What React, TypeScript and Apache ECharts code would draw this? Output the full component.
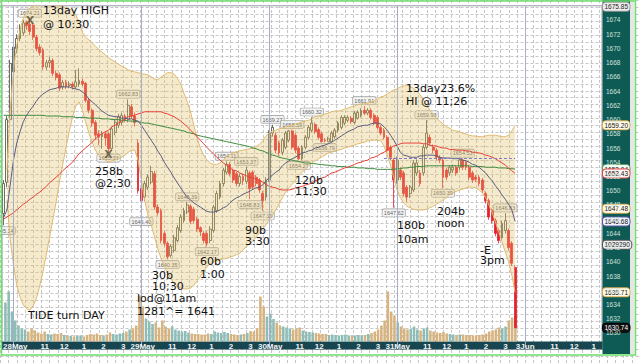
import React, { useEffect, useRef } from 'react';
import * as echarts from 'echarts';

// ---- time axis ----
const dayNames = ['28May', '29May', '30May', '31May', '3Jun'];
const hourLabels = ['11', '12', '1', '2', '3'];
const hourLabelOffsets = [12, 18, 24, 30, 36];
const dayLabelOffset = 3;
const slotsPerDay = 39;
const totalSlots = 183;
const tenAmSlots = [3, 42, 81, 120, 159];

// ---- 10-minute candles: [open, close, low, high] ----
const candles: number[][] = [
  [1646.8, 1651.0, 1645.14, 1651.5], [1651.2, 1660.0, 1650.5, 1660.5], [1660.0, 1667.9, 1659.5, 1668.4], [1666.7, 1670.2, 1666.0, 1670.8], [1670.0, 1671.4, 1669.3, 1672.0],
  [1671.4, 1673.0, 1671.0, 1673.4], [1672.2, 1673.6, 1671.8, 1674.0], [1673.6, 1673.2, 1672.6, 1673.9], [1673.4, 1672.4, 1671.9, 1674.21], [1673.3, 1671.6, 1671.2, 1673.6],
  [1671.6, 1670.0, 1669.6, 1671.9], [1670.2, 1669.4, 1669.0, 1670.6], [1669.8, 1667.4, 1667.0, 1670.1], [1667.4, 1668.0, 1667.0, 1668.4], [1668.0, 1668.3, 1667.3, 1668.8],
  [1668.3, 1666.5, 1666.1, 1668.6], [1666.5, 1665.9, 1665.5, 1666.9], [1666.3, 1664.4, 1664.0, 1666.6], [1664.6, 1665.2, 1664.2, 1665.6], [1665.2, 1664.7, 1664.3, 1665.6],
  [1664.8, 1665.0, 1664.4, 1665.4], [1665.0, 1664.6, 1664.2, 1665.3], [1664.6, 1665.3, 1664.3, 1667.0], [1665.0, 1665.5, 1664.6, 1667.2], [1665.4, 1665.0, 1664.7, 1665.8],
  [1665.1, 1662.7, 1662.4, 1665.3], [1662.7, 1661.3, 1660.9, 1663.0], [1661.3, 1659.5, 1659.0, 1661.6], [1659.6, 1657.8, 1657.2, 1659.9], [1658.0, 1657.6, 1656.4, 1658.5],
  [1657.6, 1657.9, 1655.9, 1658.4], [1658.0, 1657.4, 1656.3, 1658.4], [1658.0, 1655.9, 1655.33, 1658.3], [1655.9, 1658.7, 1655.6, 1659.0], [1658.2, 1659.6, 1657.8, 1660.0],
  [1659.2, 1660.4, 1658.8, 1660.8], [1659.6, 1660.6, 1659.2, 1661.0], [1660.5, 1660.0, 1659.6, 1660.8], [1660.0, 1662.0, 1659.6, 1662.83],
  // 29May
  [1661.8, 1660.5, 1660.1, 1662.2], [1660.5, 1659.6, 1659.0, 1661.0], [1656.7, 1650.0, 1649.6, 1657.2], [1650.3, 1648.6, 1646.40, 1650.8], [1649.1, 1651.0, 1648.5, 1651.4],
  [1650.5, 1651.9, 1650.1, 1652.3], [1651.2, 1652.7, 1650.9, 1653.5], [1652.4, 1647.7, 1647.3, 1652.8], [1647.7, 1646.9, 1646.5, 1648.1], [1647.2, 1643.0, 1642.6, 1647.5],
  [1644.0, 1642.6, 1642.2, 1644.3], [1642.6, 1640.7, 1640.35, 1642.9], [1640.9, 1642.2, 1640.6, 1642.5], [1641.6, 1643.4, 1641.3, 1643.8], [1643.0, 1644.8, 1642.7, 1645.2],
  [1644.4, 1646.3, 1644.1, 1646.7], [1645.8, 1647.2, 1645.5, 1647.6], [1647.0, 1648.0, 1646.7, 1648.39], [1647.8, 1645.7, 1645.3, 1648.1], [1647.4, 1645.8, 1645.4, 1647.7],
  [1646.0, 1644.6, 1644.2, 1646.3], [1644.8, 1644.2, 1643.6, 1645.0], [1644.0, 1643.0, 1642.6, 1644.3], [1644.0, 1642.6, 1642.17, 1644.3], [1643.0, 1644.6, 1642.6, 1645.0],
  [1644.4, 1647.7, 1644.1, 1648.0], [1647.2, 1649.6, 1646.9, 1650.0], [1649.1, 1651.0, 1648.8, 1651.4], [1651.0, 1652.9, 1650.6, 1653.2], [1652.6, 1653.7, 1652.3, 1654.11],
  [1653.7, 1652.4, 1652.0, 1654.0], [1652.8, 1651.5, 1651.1, 1653.1], [1652.4, 1651.0, 1650.6, 1652.7], [1651.0, 1652.0, 1650.6, 1652.4], [1652.0, 1651.4, 1650.8, 1652.4],
  [1651.3, 1652.9, 1650.9, 1653.37], [1652.5, 1650.3, 1648.83, 1652.8], [1652.6, 1650.5, 1650.1, 1652.9], [1651.9, 1651.0, 1650.6, 1652.2],
  // 30May
  [1651.5, 1650.1, 1649.7, 1651.8], [1649.6, 1648.6, 1647.19, 1650.0], [1649.1, 1651.5, 1648.6, 1651.9], [1651.5, 1658.1, 1651.2, 1658.5], [1658.1, 1658.9, 1657.6, 1659.27],
  [1657.8, 1655.7, 1655.3, 1658.2], [1656.7, 1655.3, 1654.9, 1657.0], [1655.4, 1657.1, 1655.0, 1657.4], [1656.1, 1658.1, 1655.8, 1658.4], [1657.1, 1658.4, 1656.8, 1658.55],
  [1658.4, 1656.1, 1655.8, 1658.59], [1657.8, 1655.7, 1655.3, 1658.1], [1656.0, 1654.5, 1654.27, 1656.3], [1654.5, 1656.1, 1654.3, 1656.4], [1656.1, 1657.5, 1655.8, 1657.8],
  [1657.5, 1658.9, 1657.2, 1659.2], [1658.5, 1659.5, 1658.2, 1660.32], [1659.3, 1658.3, 1658.0, 1659.6], [1658.6, 1657.5, 1657.2, 1658.9], [1658.0, 1656.9, 1656.8, 1658.3],
  [1657.1, 1657.0, 1656.79, 1657.4], [1656.9, 1657.3, 1656.9, 1657.6], [1656.9, 1658.1, 1656.8, 1658.4], [1657.6, 1658.5, 1657.3, 1658.8], [1658.5, 1659.5, 1658.2, 1659.8],
  [1658.9, 1660.3, 1658.6, 1660.6], [1659.5, 1660.3, 1659.2, 1660.6], [1659.9, 1660.3, 1659.6, 1660.6], [1660.2, 1659.7, 1659.4, 1660.5], [1659.6, 1660.9, 1659.3, 1661.2],
  [1660.2, 1661.0, 1660.0, 1661.3], [1660.6, 1661.3, 1660.3, 1661.6], [1661.3, 1660.9, 1660.6, 1661.91], [1660.9, 1661.3, 1660.6, 1661.6], [1661.3, 1660.3, 1660.0, 1661.6],
  [1660.6, 1659.5, 1659.2, 1660.9], [1660.3, 1658.9, 1658.6, 1660.6], [1658.9, 1658.1, 1657.8, 1659.2], [1658.5, 1657.5, 1657.2, 1658.8],
  // 31May
  [1657.5, 1655.7, 1655.3, 1657.8], [1656.1, 1654.7, 1654.3, 1656.4], [1654.3, 1651.5, 1647.62, 1654.6], [1651.5, 1654.3, 1651.0, 1654.8], [1652.9, 1651.9, 1651.5, 1653.3],
  [1652.5, 1649.6, 1649.2, 1652.8], [1650.5, 1649.1, 1648.4, 1650.8], [1649.6, 1650.5, 1649.0, 1650.8], [1650.1, 1653.9, 1649.8, 1654.3], [1652.5, 1653.9, 1652.1, 1654.4],
  [1652.5, 1651.0, 1650.6, 1652.9], [1652.5, 1656.1, 1652.1, 1656.5], [1656.1, 1658.1, 1655.8, 1659.93], [1657.5, 1656.7, 1656.3, 1657.9], [1656.1, 1655.7, 1655.3, 1656.5],
  [1655.7, 1654.7, 1654.3, 1656.0], [1654.7, 1654.3, 1653.9, 1655.0], [1654.3, 1651.9, 1650.39, 1654.6], [1652.9, 1651.9, 1651.5, 1653.2], [1652.5, 1653.3, 1652.1, 1653.6],
  [1652.9, 1653.3, 1652.5, 1653.7], [1653.3, 1652.5, 1652.1, 1653.6], [1653.3, 1654.3, 1652.9, 1654.5], [1654.3, 1653.3, 1652.9, 1654.53], [1654.0, 1653.3, 1652.9, 1654.3],
  [1653.3, 1651.9, 1651.5, 1653.6], [1652.5, 1651.5, 1651.1, 1652.8], [1651.9, 1651.6, 1651.2, 1652.2], [1651.9, 1651.0, 1650.6, 1652.2], [1651.5, 1650.1, 1649.7, 1651.8],
  [1649.6, 1648.6, 1648.2, 1649.9], [1648.6, 1646.3, 1645.9, 1648.9], [1647.2, 1645.8, 1645.4, 1647.5], [1645.8, 1644.0, 1643.6, 1646.1], [1644.4, 1643.0, 1642.6, 1644.7],
  [1643.4, 1645.4, 1643.0, 1645.8], [1644.4, 1645.8, 1644.0, 1646.83], [1644.4, 1642.0, 1641.6, 1644.7], [1642.6, 1639.8, 1639.4, 1642.9],
  // 3Jun
  [1639.2, 1630.74, 1630.74, 1639.5],
];

// ---- volume (thousands) ----
const volumes = [
  780, 1000, 600, 420, 320, 260, 240, 200, 260, 220,
  180, 160, 200, 150, 140, 160, 150, 170, 130, 120,
  110, 100, 110, 120, 100, 130, 150, 140, 160, 130,
  120, 140, 180, 150, 140, 160, 170, 200, 240, 260,
  320, 920, 700, 460, 400, 350, 380, 280, 420, 300,
  260, 300, 240, 220, 200, 210, 180, 160, 150, 150,
  140, 140, 160, 150, 200, 180, 170, 190, 170, 150,
  140, 130, 140, 150, 170, 210, 200, 260, 900, 700,
  500, 560, 450, 380, 320, 300, 280, 260, 240, 260,
  280, 220, 200, 190, 180, 170, 160, 150, 150, 130,
  140, 130, 120, 130, 140, 120, 110, 120, 130, 120,
  130, 150, 170, 200, 240, 320, 420, 1000, 600, 520,
  380, 300, 260, 240, 250, 300, 240, 220, 260, 280,
  220, 200, 180, 170, 190, 160, 150, 140, 130, 140,
  140, 130, 130, 120, 120, 130, 140, 160, 200, 220,
  240, 280, 260, 300, 420, 480, 520,
];

// ---- Bollinger bands ----
const bbUpper = [
  null, 1652.9, 1661.3, 1667.0, 1670.5, 1672.6, 1674.3, 1675.1, 1675.7, 1676.0,
  1676.1, 1676.2, 1676.2, 1676.2, 1676.2, 1676.1, 1676.1, 1676.0, 1675.8, 1675.7,
  1675.5, 1675.4, 1674.7, 1673.7, 1672.3, 1671.6, 1671.2, 1670.8, 1670.3, 1669.9,
  1669.5, 1669.1, 1668.7, 1668.4, 1668.1, 1667.8, 1667.5, 1667.3, 1667.0, 1666.8,
  1666.7, 1666.6, 1666.4, 1666.4, 1666.3, 1666.0, 1665.7, 1665.6, 1666.0, 1666.3,
  1666.6, 1666.6, 1666.4, 1665.8, 1665.0, 1663.7, 1662.5, 1661.1, 1659.2, 1657.4,
  1656.0, 1655.0, 1654.3, 1653.9, 1653.7, 1653.7, 1653.9, 1654.3, 1654.8, 1655.1,
  1655.3, 1655.5, 1655.6, 1655.7, 1655.8, 1655.9, 1656.0, 1656.2, 1656.5, 1657.0,
  1657.7, 1658.1, 1658.4, 1658.5, 1658.7, 1658.8, 1659.0, 1659.1, 1659.2, 1659.4,
  1659.5, 1659.7, 1659.8, 1659.9, 1660.1, 1660.4, 1660.5, 1660.6, 1660.8, 1660.9,
  1661.1, 1661.2, 1661.2, 1661.3, 1661.5, 1661.6, 1661.8, 1661.9, 1662.1, 1662.2,
  1662.3, 1662.3, 1662.5, 1662.6, 1662.9, 1663.2, 1663.3, 1663.6, 1663.9, 1664.2,
  1664.3, 1664.6, 1664.7, 1664.9, 1664.7, 1664.4, 1664.0, 1663.5, 1662.8, 1662.1,
  1661.3, 1660.8, 1660.2, 1659.8, 1659.4, 1659.0, 1658.8, 1658.5, 1658.4, 1658.3,
  1658.1, 1658.0, 1657.8, 1657.7, 1657.7, 1657.6, 1657.6, 1657.7, 1657.8, 1657.8,
  1657.8, 1657.7, 1657.6, 1657.6, 1657.8, 1658.4, 1659.2,
];
const bbLower = [
  null, 1648.7, 1643.1, 1639.6, 1636.7, 1635.1, 1633.9, 1633.4, 1633.2, 1633.8,
  1634.9, 1636.6, 1638.6, 1641.0, 1643.4, 1645.9, 1648.4, 1651.2, 1653.6, 1656.0,
  1658.3, 1660.4, 1661.9, 1662.5, 1661.3, 1659.7, 1658.1, 1656.8, 1655.7, 1655.0,
  1654.6, 1654.3, 1654.0, 1654.2, 1654.3, 1654.5, 1654.7, 1655.0, 1655.4, 1655.7,
  1655.7, 1654.3, 1651.5, 1648.7, 1646.6, 1645.2, 1643.5, 1641.9, 1640.5, 1639.4,
  1638.4, 1637.6, 1637.0, 1636.6, 1636.3, 1636.2, 1636.2, 1636.3, 1636.7, 1637.3,
  1637.9, 1638.6, 1639.3, 1639.7, 1640.0, 1640.1, 1640.3, 1640.4, 1640.5, 1640.7,
  1640.8, 1641.0, 1641.2, 1641.7, 1642.1, 1642.5, 1642.9, 1643.5, 1644.1, 1644.6,
  1645.2, 1645.9, 1646.6, 1647.3, 1648.1, 1649.0, 1649.8, 1650.4, 1650.9, 1651.5,
  1652.1, 1652.6, 1653.0, 1653.5, 1653.9, 1654.2, 1654.5, 1654.7, 1655.0, 1655.3,
  1655.4, 1655.6, 1655.7, 1655.8, 1656.0, 1656.1, 1656.3, 1656.4, 1656.6, 1656.7,
  1656.8, 1657.0, 1657.1, 1657.1, 1657.1, 1657.0, 1656.3, 1655.0, 1653.6, 1651.8,
  1650.1, 1649.0, 1648.3, 1647.8, 1647.6, 1647.4, 1647.3, 1647.3, 1647.3, 1647.4,
  1647.6, 1647.8, 1648.1, 1648.4, 1648.7, 1649.0, 1649.4, 1649.7, 1649.9, 1650.1,
  1650.2, 1650.4, 1650.5, 1650.5, 1650.4, 1650.1, 1649.7, 1649.0, 1648.0, 1646.9,
  1645.6, 1644.2, 1642.8, 1641.4, 1640.0, 1638.1, 1635.71,
];

// ---- moving averages ----
const maSlate = [
  1646.2, 1647.3, 1650.8, 1654.3, 1656.7, 1658.3, 1659.7, 1660.6, 1661.3, 1661.9,
  1662.6, 1663.2, 1663.6, 1663.9, 1664.2, 1664.3, 1664.4, 1664.6, 1664.6, 1664.6,
  1664.6, 1664.4, 1664.3, 1664.2, 1663.9, 1663.5, 1662.9, 1662.5, 1662.1, 1661.6,
  1661.2, 1660.9, 1660.6, 1660.5, 1660.4, 1660.4, 1660.2, 1660.2, 1660.1, 1660.1,
  1659.9, 1659.8, 1659.2, 1658.5, 1657.8, 1657.1, 1656.4, 1655.6, 1654.9, 1654.0,
  1653.3, 1652.6, 1651.8, 1651.1, 1650.4, 1649.7, 1649.1, 1648.7, 1648.3, 1648.0,
  1647.7, 1647.4, 1647.1, 1647.0, 1647.0, 1647.1, 1647.3, 1647.6, 1647.8, 1648.3,
  1648.7, 1649.0, 1649.2, 1649.5, 1649.7, 1649.9, 1650.2, 1650.4, 1650.5, 1650.8,
  1651.4, 1651.8, 1652.2, 1652.6, 1652.9, 1653.5, 1653.9, 1654.2, 1654.5, 1654.7,
  1655.0, 1655.3, 1655.4, 1655.6, 1655.7, 1656.0, 1656.1, 1656.3, 1656.4, 1656.6,
  1656.8, 1657.1, 1657.4, 1657.7, 1658.0, 1658.3, 1658.5, 1658.7, 1659.0, 1659.1,
  1659.2, 1659.2, 1659.4, 1659.5, 1659.5, 1659.4, 1659.0, 1658.5, 1657.8, 1657.1,
  1656.3, 1655.4, 1655.0, 1654.9, 1654.7, 1654.7, 1654.7, 1654.9, 1654.9, 1655.0,
  1655.0, 1655.0, 1654.9, 1654.7, 1654.6, 1654.6, 1654.6, 1654.5, 1654.5, 1654.5,
  1654.3, 1654.2, 1654.0, 1653.7, 1653.6, 1653.3, 1652.9, 1652.5, 1651.9, 1651.4,
  1650.7, 1650.1, 1649.4, 1648.8, 1648.1, 1647.3, 1645.68,
];
const maRed = [
  1646.0, 1646.3, 1646.6, 1646.9, 1647.3, 1647.7, 1648.1, 1648.4, 1648.8, 1649.1,
  1649.5, 1649.8, 1650.2, 1650.6, 1651.1, 1651.5, 1651.9, 1652.3, 1652.8, 1653.2,
  1653.6, 1654.0, 1654.6, 1655.2, 1655.6, 1656.0, 1656.4, 1656.8, 1657.3, 1657.7,
  1658.0, 1658.3, 1658.5, 1659.0, 1659.2, 1659.5, 1659.8, 1660.1, 1660.4, 1660.5,
  1660.6, 1660.8, 1660.9, 1661.1, 1661.1, 1661.1, 1661.1, 1661.1, 1661.1, 1660.9,
  1660.8, 1660.6, 1660.4, 1660.1, 1659.8, 1659.4, 1659.0, 1658.5, 1658.1, 1657.6,
  1657.1, 1656.6, 1656.1, 1655.6, 1655.2, 1654.7, 1654.3, 1653.9, 1653.6, 1653.2,
  1652.9, 1652.8, 1652.5, 1652.3, 1652.1, 1651.9, 1651.8, 1651.6, 1651.5, 1651.2,
  1650.9, 1650.6, 1650.5, 1650.4, 1650.2, 1650.1, 1650.1, 1650.1, 1650.2, 1650.4,
  1650.5, 1650.6, 1650.8, 1650.9, 1651.1, 1651.4, 1651.5, 1651.8, 1651.9, 1652.2,
  1652.5, 1652.6, 1652.8, 1653.0, 1653.2, 1653.3, 1653.5, 1653.7, 1653.9, 1654.0,
  1654.2, 1654.3, 1654.6, 1654.7, 1654.9, 1655.2, 1655.4, 1655.7, 1656.0, 1656.3,
  1656.4, 1656.6, 1656.7, 1656.7, 1656.7, 1656.7, 1656.7, 1656.7, 1656.6, 1656.6,
  1656.4, 1656.3, 1656.3, 1656.1, 1656.0, 1656.0, 1655.8, 1655.8, 1655.7, 1655.7,
  1655.7, 1655.6, 1655.6, 1655.4, 1655.4, 1655.3, 1655.2, 1655.0, 1654.9, 1654.7,
  1654.5, 1654.2, 1653.9, 1653.6, 1653.2, 1652.8, 1652.43,
];
const maGreen = [
  1660.6, 1660.6, 1660.6, 1660.6, 1660.6, 1660.6, 1660.6, 1660.6, 1660.6, 1660.6, 1660.6,
  1660.6, 1660.6, 1660.5, 1660.5, 1660.5, 1660.5, 1660.5, 1660.4, 1660.4, 1660.4,
  1660.4, 1660.3, 1660.3, 1660.3, 1660.3, 1660.2, 1660.2, 1660.2, 1660.2, 1660.1,
  1660.1, 1660.1, 1660.0, 1660.0, 1660.0, 1659.9, 1659.9, 1659.8, 1659.8, 1659.7,
  1659.7, 1659.6, 1659.5, 1659.5, 1659.4, 1659.3, 1659.2, 1659.1, 1659.0, 1658.9,
  1658.8, 1658.7, 1658.6, 1658.5, 1658.4, 1658.2, 1658.1, 1658.0, 1657.8, 1657.7,
  1657.6, 1657.5, 1657.4, 1657.3, 1657.2, 1657.1, 1657.0, 1656.9, 1656.8, 1656.7,
  1656.6, 1656.5, 1656.4, 1656.3, 1656.2, 1656.0, 1655.9, 1655.7, 1655.6, 1655.4,
  1655.2, 1655.0, 1654.9, 1654.7, 1654.6, 1654.5, 1654.4, 1654.3, 1654.2, 1654.1,
  1654.0, 1653.9, 1653.9, 1653.8, 1653.8, 1653.7, 1653.7, 1653.6, 1653.6, 1653.5,
  1653.5, 1653.4, 1653.4, 1653.4, 1653.3, 1653.3, 1653.3, 1653.2, 1653.2, 1653.2,
  1653.1, 1653.1, 1653.1, 1653.0, 1653.0, 1653.0, 1653.0, 1653.0, 1653.0, 1653.1,
  1653.1, 1653.2, 1653.2, 1653.3, 1653.3, 1653.4, 1653.4, 1653.4, 1653.5, 1653.5,
  1653.5, 1653.5, 1653.5, 1653.5, 1653.5, 1653.5, 1653.5, 1653.5, 1653.5, 1653.5,
  1653.5, 1653.5, 1653.4, 1653.4, 1653.4, 1653.4, 1653.3, 1653.3, 1653.3, 1653.3,
  1653.2, 1653.2, 1653.2, 1653.1, 1653.1, 1653.04,
];

// ---- price callouts [slot, price] ----
const highCallouts = [
  [8, 1674.21], [38, 1662.83], [56, 1648.39], [68, 1654.11], [74, 1653.37], [82, 1659.27],
  [88, 1658.59], [94, 1660.32], [110, 1661.91], [129, 1659.93], [140, 1654.53], [153, 1646.83],
];
const lowCallouts = [
  [0, 1645.14], [32, 1655.33], [42, 1646.40], [50, 1640.35], [62, 1642.17], [75, 1648.83],
  [79, 1647.19], [90, 1654.27], [98, 1656.79], [119, 1647.62], [134, 1650.39],
];
const crossMarks = [[8, 1674.21], [32, 1655.33]];
const refLevelPrice = 1654.5;
const refLevelSlots = [116, 156];

// ---- right axis tags ----
const tagValues = [1675.85, 1659.20, 1653.04, 1652.43, 1647.48, 1645.68, 1642.4, 1635.71, 1630.74];
const tagTexts = ['1675.85', '1659.20', '1653.04', '1652.43', '1647.48', '1645.68', '1029290', '1635.71', '1630.74'];
const tagBorderColors = ['#9a9a9a', '#d8ae55', '#5f9f5f', '#e04848', '#d8ae55', '#5a5aa8', '#555555', '#d8ae55', '#000000'];
const tagFillColors = ['#eeeeee', '#fffbea', '#f4fff4', '#fff4f4', '#fffbea', '#f4f4ff', '#eeeeee', '#fffbea', '#111111'];
const tagTextColors = ['#222', '#111', '#111', '#111', '#111', '#111', '#111', '#111', '#ffffff'];

const categories = Array.from({ length: totalSlots }, (_, i) => String(i));
const labelMap: Record<number, string> = {};
dayNames.forEach((d, di) => {
  labelMap[di * slotsPerDay + dayLabelOffset] = d;
  hourLabelOffsets.forEach((o, hi) => {
    const s = di * slotsPerDay + o;
    if (s < totalSlots) labelMap[s] = hourLabels[hi];
  });
});

const notes: [string, number, number][] = [
  ['13day HIGH', 43, 5], ['@ 10:30', 43, 18.5],
  ['258b', 95, 166], ['@2;30', 95, 178],
  ['30b', 152, 270], ['10;30', 152, 281],
  ['lod@11am', 137, 293], ['1281^= 1641', 137, 306],
  ['60b', 200, 256], ['1:00', 200, 269],
  ['90b', 245, 224.5], ['3:30', 245, 236],
  ['120b', 295, 174.5], ['11;30', 295, 186],
  ['TIDE turn DAY', 28, 309.5],
  ['13day23.6%', 406, 83], ['HI @ 11;26', 406, 96],
  ['180b', 397, 220], ['10am', 397, 233.5],
  ['204b', 437, 206], ['noon', 437, 218],
  ['-E', 480, 244.5], ['3pm', 480, 254.5],
];

export default function App() {
  const ref = useRef<HTMLDivElement>(null);
  useEffect(() => {
    if (!ref.current) return;
    const chart = echarts.init(ref.current, undefined, { renderer: 'svg' });
    const bbDiff = bbUpper.map((u, i) => (u == null || bbLower[i] == null ? null : +((u as number) - (bbLower[i] as number)).toFixed(2)));
    const upColor = '#fbfbf2';
    const upBorder = '#4a4a3a';
    const downColor = '#e5202e';
    const volUp = '#8ebcb6';
    const volDown = '#d6b37f';
    const calloutLabel = {
      show: true,
      fontSize: 5.5,
      fontFamily: 'Liberation Sans',
      color: '#333',
      backgroundColor: '#f2f2f2',
      borderColor: '#888',
      borderWidth: 0.6,
      borderRadius: 1.5,
      padding: [1, 1.5, 0.5, 1.5],
      formatter: (p: any) => p.value[1].toFixed(2),
    };
    const option: any = {
      animation: false,
      backgroundColor: '#ffffff',
      grid: [
        { left: 2, right: 38, top: 5.77, bottom: 15.8, show: true, borderColor: '#9a9ab0', borderWidth: 1, backgroundColor: 'transparent' },
        { left: 2, right: 38, top: 281.5, bottom: 21.5 },
        { left: 0.5, top: -1.34, width: 643.5, height: 369.9 },
      ],
      xAxis: [
        { type: 'category', gridIndex: 0, data: categories, boundaryGap: true, axisLine: { show: false }, axisTick: { show: false }, axisLabel: { show: false }, splitLine: { show: false } },
        {
          type: 'category', gridIndex: 1, data: categories, boundaryGap: true, z: 5,
          axisLine: { show: false }, axisTick: { show: false }, splitLine: { show: false },
          axisLabel: {
            show: true, margin: 0.5, fontSize: 8, fontWeight: 'bold', fontFamily: 'Liberation Sans', color: '#f2f4f4', lineHeight: 8,
            interval: (idx: number) => labelMap[idx] !== undefined,
            formatter: (_v: string, idx: number) => labelMap[idx] ?? '',
          },
        },
        {
          type: 'value', gridIndex: 2, min: 0, max: 78, interval: 1, z: 0,
          axisLine: { show: false }, axisTick: { show: false }, axisLabel: { show: false },
          splitLine: { show: true, lineStyle: { color: '#c6c6c6', type: [3, 2], width: 1 } },
        },
      ],
      yAxis: [
        {
          type: 'value', gridIndex: 0, position: 'right', min: 1628, max: 1676, interval: 2, z: 5,
          axisLine: { show: false }, axisTick: { show: false }, splitLine: { show: false },
          axisLabel: {
            show: true, margin: 4, fontSize: 6.5, fontFamily: 'Liberation Sans', color: '#cfe2de',
            showMinLabel: false, showMaxLabel: false, formatter: (v: number) => String(v),
          },
        },
        { type: 'value', gridIndex: 1, min: 0, max: 1200, show: false, splitLine: { show: false } },
        {
          type: 'value', gridIndex: 2, min: 0, max: 52, interval: 1, z: 0,
          axisLine: { show: false }, axisTick: { show: false }, axisLabel: { show: false },
          splitLine: { show: true, lineStyle: { color: '#c6c6c6', type: [3, 2], width: 1 } },
        },
      ],
      graphic: [
        { type: 'rect', z: 1, silent: true, shape: { x: 602.5, y: 0, width: 27.5, height: 354 }, style: { fill: '#0e5a55' } },
        { type: 'rect', z: 1, silent: true, shape: { x: 630, y: 0, width: 4.5, height: 354 }, style: { fill: '#e6e6e6' } },
        { type: 'rect', z: 1, silent: true, shape: { x: 2, y: 341.6, width: 600.5, height: 7.8 }, style: { fill: '#174550' } },
        { type: 'rect', z: 20, silent: true, shape: { x: 1.5, y: 1, width: 634, height: 354 }, style: { fill: 'none', stroke: '#6ce06c', lineWidth: 1.5 } },
        ...notes.map(([t, x, y]) => ({
          type: 'text', z: 20, silent: true, x, y,
          style: { text: t, font: '11px "DejaVu Sans"', fill: '#111111', align: 'left', verticalAlign: 'top' },
        })),
      ],
      series: [
        {
          type: 'bar', xAxisIndex: 1, yAxisIndex: 1, barWidth: '78%',
          data: volumes.map((v, i) => ({ value: v, itemStyle: { color: candles[i][1] >= candles[i][0] ? volUp : volDown } })),
        },
        { type: 'line', stack: 'bb', data: bbLower, symbol: 'none', lineStyle: { width: 0, color: 'rgba(0,0,0,0)' }, silent: true },
        { type: 'line', stack: 'bb', data: bbDiff, symbol: 'none', lineStyle: { width: 0, color: 'rgba(0,0,0,0)' }, areaStyle: { color: 'rgba(229,193,105,0.48)' }, silent: true },
        { type: 'line', data: bbUpper, symbol: 'none', lineStyle: { width: 1, color: '#dfbb72' }, silent: true },
        { type: 'line', data: bbLower, symbol: 'none', lineStyle: { width: 1, color: '#dfbb72' }, silent: true },
        {
          type: 'line', data: maGreen, symbol: 'none', lineStyle: { width: 1, color: '#3d8b3d' }, silent: true,
          markLine: {
            silent: true, symbol: ['none', 'none'], label: { show: false },
            data: [
              ...tenAmSlots.map((s) => ({ xAxis: String(s), lineStyle: { type: 'solid', color: '#a6aec8', width: 1 } })),
              [
                { coord: [String(refLevelSlots[0]), refLevelPrice], lineStyle: { type: [3, 2], color: '#7c7cc2', width: 1 } },
                { coord: [String(refLevelSlots[1]), refLevelPrice] },
              ],
            ],
          },
        },
        { type: 'line', data: maRed, symbol: 'none', lineStyle: { width: 1, color: '#e8403a' }, silent: true },
        { type: 'line', data: maSlate, symbol: 'none', lineStyle: { width: 1, color: '#5b5d7e' }, silent: true },
        {
          type: 'candlestick', data: candles, barWidth: '72%',
          itemStyle: { color: upColor, color0: downColor, borderColor: upBorder, borderColor0: downColor, borderWidth: 0.8 },
          markLine: {
            silent: true, symbol: ['none', 'none'],
            lineStyle: { width: 0, color: 'rgba(0,0,0,0)' },
            data: tagValues.map((v, i) => ({
              yAxis: v,
              label: {
                show: true, position: 'end', distance: 1, formatter: tagTexts[i],
                fontSize: 6.5, fontFamily: 'Liberation Sans', color: tagTextColors[i],
                backgroundColor: tagFillColors[i], borderColor: tagBorderColors[i], borderWidth: 1,
                borderRadius: 3, padding: [1, 1.5, 0, 1.5], opacity: 1,
              },
            })),
          },
        },
        {
          type: 'scatter', data: highCallouts, symbolSize: 0.1, itemStyle: { color: 'rgba(0,0,0,0)' }, silent: true,
          label: { ...calloutLabel, position: 'top', distance: 1.5 },
        },
        {
          type: 'scatter', data: lowCallouts, symbolSize: 0.1, itemStyle: { color: 'rgba(0,0,0,0)' }, silent: true,
          label: { ...calloutLabel, position: 'bottom', distance: 1.5 },
        },
        {
          type: 'scatter', data: crossMarks, symbolSize: 0.1, itemStyle: { color: 'rgba(0,0,0,0)' }, silent: true,
          label: { show: true, position: 'inside', formatter: 'X', fontSize: 11, fontWeight: 'bold', fontFamily: 'DejaVu Sans', color: '#111', offset: [0, 2] },
        },
      ],
    };
    chart.setOption(option);
    return () => chart.dispose();
  }, []);
  return (
    <div style={{ position: 'fixed', left: 0, top: 0, width: 640, height: 363, background: '#fff' }}>
      <div ref={ref} style={{ width: 640, height: 363 }} />
    </div>
  );
}
